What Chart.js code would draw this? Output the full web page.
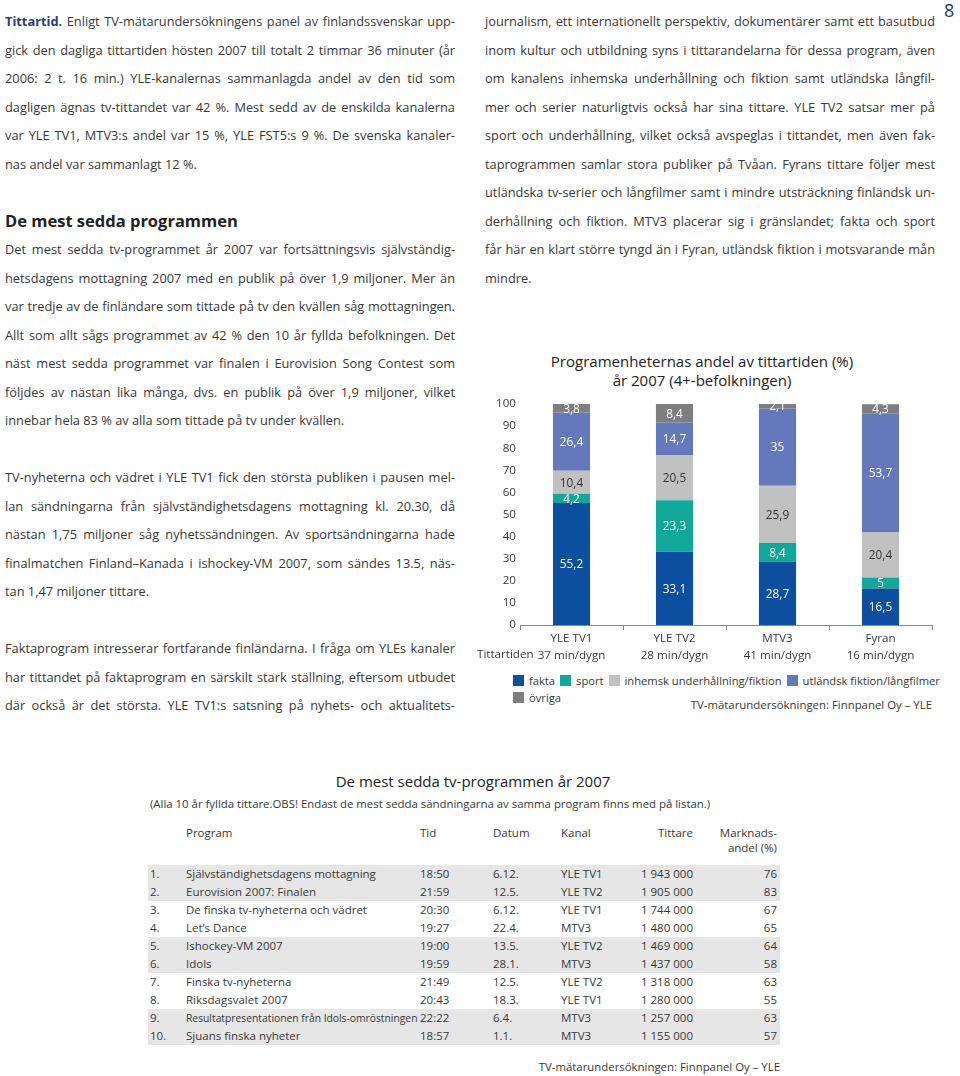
<!DOCTYPE html>
<html>
<head>
<meta charset="utf-8">
<script src="https://cdn.jsdelivr.net/npm/chart.js@4.4.1/dist/chart.umd.min.js"></script>
<style>
body{margin:0;width:960px;height:1076px;position:relative;background:#fff;font-family:"Open Sans",Lato,sans-serif;color:#383838;overflow:hidden}
.col{position:absolute;top:7px;width:450px;font-size:12.8px;line-height:28.5px}
.col div{height:28.5px}
.j{text-align:justify;text-align-last:justify}
.col h2{margin:0;font-size:16.5px;font-weight:700;color:#222;height:28.5px;line-height:28.5px}
.lead{font-weight:700;color:#2c3d70}
#pageno{position:absolute;left:944px;top:-2px;font-size:18px;color:#1d3a6e}
#ctitle{position:absolute;left:490px;top:352px;width:424px;text-align:center;font-size:15px;line-height:19px;color:#222}
#chartbox{position:absolute;left:475px;top:392px;width:485px;height:280px}
#legend{position:absolute;left:513px;top:672px;width:440px;display:flex;flex-wrap:wrap;column-gap:5px;font-size:11.2px;line-height:17px}
#legend span.it{display:flex;align-items:center;white-space:nowrap}
#legend i{display:inline-block;width:11px;height:11px;margin-right:5px}
#src1{position:absolute;right:28px;top:697px;font-size:11.4px}
#ttitle{position:absolute;left:173px;width:600px;top:771px;text-align:center;font-size:15px;color:#222}
#tsub{position:absolute;left:150px;top:796px;font-size:11.4px}
#tbl{position:absolute;left:148px;top:825px;border-collapse:collapse;table-layout:fixed;font-size:11.5px}
#tbl td{padding:0;height:18px;line-height:18px;white-space:nowrap;overflow:visible}
#tbl thead td{line-height:15px;height:40px;vertical-align:top}
#tbl tr.g td{background:#e6e6e6}
#tbl .r{text-align:right}
#src2{position:absolute;right:180px;top:1059px;font-size:11.4px}
</style>
</head>
<body>
<div id="pageno">8</div>

<div class="col" id="left" style="left:5px">
<div class="j"><span class="lead">Tittartid.</span> Enligt TV-mätarundersökningens panel av finlandssvenskar upp-</div>
<div class="j">gick den dagliga tittartiden hösten 2007 till totalt 2 timmar 36 minuter (år</div>
<div class="j">2006: 2 t. 16 min.) YLE-kanalernas sammanlagda andel av den tid som</div>
<div class="j">dagligen ägnas tv-tittandet var 42 %. Mest sedd av de enskilda kanalerna</div>
<div class="j">var YLE TV1, MTV3:s andel var 15 %, YLE FST5:s 9 %. De svenska kanaler-</div>
<div>nas andel var sammanlagt 12 %.</div>
<div></div>
<h2>De mest sedda programmen</h2>
<div class="j">Det mest sedda tv-programmet år 2007 var fortsättningsvis självständig-</div>
<div class="j">hetsdagens mottagning 2007 med en publik på över 1,9 miljoner. Mer än</div>
<div class="j">var tredje av de finländare som tittade på tv den kvällen såg mottagningen.</div>
<div class="j">Allt som allt sågs programmet av 42 % den 10 år fyllda befolkningen. Det</div>
<div class="j">näst mest sedda programmet var finalen i Eurovision Song Contest som</div>
<div class="j">följdes av nästan lika många, dvs. en publik på över 1,9 miljoner, vilket</div>
<div>innebar hela 83 % av alla som tittade på tv under kvällen.</div>
<div></div>
<div class="j">TV-nyheterna och vädret i YLE TV1 fick den största publiken i pausen mel-</div>
<div class="j">lan sändningarna från självständighetsdagens mottagning kl. 20.30, då</div>
<div class="j">nästan 1,75 miljoner såg nyhetssändningen. Av sportsändningarna hade</div>
<div class="j">finalmatchen Finland–Kanada i ishockey-VM 2007, som sändes 13.5, näs-</div>
<div>tan 1,47 miljoner tittare.</div>
<div></div>
<div class="j">Faktaprogram intresserar fortfarande finländarna. I fråga om YLEs kanaler</div>
<div class="j">har tittandet på faktaprogram en särskilt stark ställning, eftersom utbudet</div>
<div class="j">där också är det största. YLE TV1:s satsning på nyhets- och aktualitets-</div>
</div>

<div class="col" id="right" style="left:485px">
<div class="j">journalism, ett internationellt perspektiv, dokumentärer samt ett basutbud</div>
<div class="j">inom kultur och utbildning syns i tittarandelarna för dessa program, även</div>
<div class="j">om kanalens inhemska underhållning och fiktion samt utländska långfil-</div>
<div class="j">mer och serier naturligtvis också har sina tittare. YLE TV2 satsar mer på</div>
<div class="j">sport och underhållning, vilket också avspeglas i tittandet, men även fak-</div>
<div class="j">taprogrammen samlar stora publiker på Tvåan. Fyrans tittare följer mest</div>
<div class="j">utländska tv-serier och långfilmer samt i mindre utsträckning finländsk un-</div>
<div class="j">derhållning och fiktion. MTV3 placerar sig i gränslandet; fakta och sport</div>
<div class="j">får här en klart större tyngd än i Fyran, utländsk fiktion i motsvarande mån</div>
<div>mindre.</div>
</div>

<div id="ctitle">Programenheternas andel av tittartiden (%)<br>år 2007 (4+-befolkningen)</div>
<div id="chartbox"><canvas id="myChart"></canvas></div>
<div id="legend"></div>
<div id="src1">TV-mätarundersökningen: Finnpanel Oy – YLE</div>

<div id="ttitle">De mest sedda tv-programmen år 2007</div>
<div id="tsub">(Alla 10 år fyllda tittare.OBS! Endast de mest sedda sändningarna av samma program finns med på listan.)</div>
<table id="tbl">
<colgroup><col style="width:38px"><col style="width:234px"><col style="width:73px"><col style="width:68px"><col style="width:69px"><col style="width:63px"><col style="width:87px"></colgroup>
<thead><tr><td></td><td>Program</td><td>Tid</td><td>Datum</td><td>Kanal</td><td class="r">Tittare</td><td class="r" style="padding-right:3px">Marknads-<br>andel (%)</td></tr></thead>
<tbody id="tbody"></tbody>
</table>
<div id="src2">TV-mätarundersökningen: Finnpanel Oy – YLE</div>

<script>
// stapeldiagram
var channels = ["YLE TV1", "YLE TV2", "MTV3", "Fyran"];
var viewTime = ["37 min/dygn", "28 min/dygn", "41 min/dygn", "16 min/dygn"];
var fakta = [55.2, 33.1, 28.7, 16.5];
var sport = [4.2, 23.3, 8.4, 5];
var inhemsk = [10.4, 20.5, 25.9, 20.4];
var utlandsk = [26.4, 14.7, 35, 53.7];
var ovriga = [3.8, 8.4, 2.1, 4.3];
var seriesNames = ["fakta", "sport", "inhemsk underhållning/fiktion", "utländsk fiktion/långfilmer", "övriga"];
var seriesColors = ["#0b4f9e", "#10a999", "#c1c1c1", "#6478bb", "#7e7e7e"];
var labelColors = ["#fff", "#fff", "#333", "#fff", "#fff"];

// tabell
var ranks = ["1.", "2.", "3.", "4.", "5.", "6.", "7.", "8.", "9.", "10."];
var programs = [
  "Självständighetsdagens mottagning",
  "Eurovision 2007: Finalen",
  "De finska tv-nyheterna och vädret",
  "Let’s Dance",
  "Ishockey-VM 2007",
  "Idols",
  "Finska tv-nyheterna",
  "Riksdagsvalet 2007",
  "Resultatpresentationen från Idols-omröstningen",
  "Sjuans finska nyheter",
];
var times = ["18:50", "21:59", "20:30", "19:27", "19:00", "19:59", "21:49", "20:43", "22:22", "18:57"];
var dates = ["6.12.", "12.5.", "6.12.", "22.4.", "13.5.", "28.1.", "12.5.", "18.3.", "6.4.", "1.1."];
var kanaler = ["YLE TV1", "YLE TV2", "YLE TV1", "MTV3", "YLE TV2", "MTV3", "YLE TV2", "YLE TV1", "MTV3", "MTV3"];
var tittare = ["1 943 000", "1 905 000", "1 744 000", "1 480 000", "1 469 000", "1 437 000", "1 318 000", "1 280 000", "1 257 000", "1 155 000"];
var andel = [76, 83, 67, 65, 64, 58, 63, 55, 63, 57];

// justera rader som inte ryms
document.querySelectorAll(".j").forEach(function (el) {
  var s = el.style;
  s.display = "inline-block"; s.width = "auto"; s.whiteSpace = "nowrap";
  var w = el.getBoundingClientRect().width;
  var n = el.textContent.length;
  s.display = ""; s.width = ""; s.whiteSpace = "";
  if (w > 449) s.letterSpacing = ((449 - w) / n) + "px";
});

var tbody = document.getElementById("tbody");
ranks.forEach(function (r, i) {
  var tr = document.createElement("tr");
  if (Math.floor(i / 2) % 2 === 0) tr.className = "g";
  var small = i === 8 ? ' style="font-size:10.3px"' : "";
  tr.innerHTML = '<td style="padding-left:2px">' + r + "</td><td" + small + ">" + programs[i] + "</td><td>" + times[i] +
    "</td><td>" + dates[i] + "</td><td>" + kanaler[i] + '</td><td class="r">' + tittare[i] +
    '</td><td class="r" style="padding-right:3px">' + andel[i] + "</td>";
  tbody.appendChild(tr);
});

var legend = document.getElementById("legend");
seriesNames.forEach(function (name, i) {
  var it = document.createElement("span");
  it.className = "it";
  it.innerHTML = '<i style="background:' + seriesColors[i] + '"></i>' + name;
  legend.appendChild(it);
});

var valueLabels = {
  id: "valueLabels",
  afterDatasetsDraw: function (chart) {
    var c = chart.ctx;
    c.save();
    c.font = "11.8px 'Open Sans'";
    c.textAlign = "center";
    c.textBaseline = "middle";
    chart.data.datasets.forEach(function (ds, i) {
      chart.getDatasetMeta(i).data.forEach(function (bar, j) {
        var p = bar.getProps(["x", "y", "base"], true);
        c.fillStyle = labelColors[i];
        c.fillText(String(ds.data[j]).replace(".", ","), p.x, (p.y + p.base) / 2 + 1);
      });
    });
    // rubrik för andra raden under x-axeln
    c.font = "11.6px 'Open Sans'";
    c.fillStyle = "#383838";
    c.textAlign = "left";
    c.fillText("Tittartiden", 2, chart.chartArea.bottom + 30);
    c.restore();
  },
};

var allSeries = [fakta, sport, inhemsk, utlandsk, ovriga];
var ctx = document.getElementById("myChart").getContext("2d");
var myChart = new Chart(ctx, {
  type: "bar",
  data: {
    labels: channels.map(function (ch, i) { return [ch, viewTime[i]]; }),
    datasets: allSeries.map(function (d, i) {
      return {
        label: seriesNames[i],
        data: d,
        backgroundColor: seriesColors[i],
        barPercentage: 0.36,
        categoryPercentage: 1,
      };
    }),
  },
  options: {
    responsive: true,
    maintainAspectRatio: false,
    animation: false,
    layout: { padding: { top: 12, right: 28, left: 0, bottom: 0 } },
    plugins: { legend: { display: false }, tooltip: { enabled: false }, title: { display: false } },
    scales: {
      x: {
        stacked: true,
        grid: { offset: true, drawOnChartArea: false, drawTicks: true, tickLength: 5, color: "#8a8a8a" },
        border: { display: true, color: "#8a8a8a" },
        ticks: { color: "#383838", padding: 0, font: { family: "Open Sans", size: 11.6, lineHeight: 1.45 } },
        afterFit: function (scale) { scale.height = 47; },
      },
      y: {
        stacked: true,
        min: 0,
        max: 100,
        ticks: { stepSize: 10, color: "#383838", padding: 4, font: { family: "Open Sans", size: 11.6 } },
        grid: { display: false, drawTicks: false },
        border: { display: false },
        afterFit: function (scale) { scale.width = 45; },
      },
    },
  },
  plugins: [valueLabels],
});
</script>
</body>
</html>
